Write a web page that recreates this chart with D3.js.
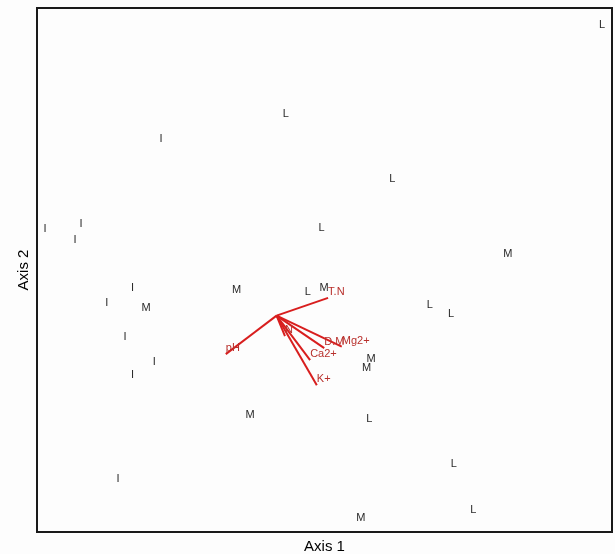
<!DOCTYPE html>
<html>
<head>
<meta charset="utf-8">
<script src="https://cdn.jsdelivr.net/npm/d3@7"></script>
<style>
  body { margin: 0; background: #fdfdfd; }
  svg { display: block; font-family: "Liberation Sans", Arial, sans-serif; will-change: transform; }
</style>
</head>
<body>
<svg id="chart"></svg>
<script>
// site scores (axis 1, axis 2) per group
const groupI = [
  [-0.967, 0.363], [-0.816, 0.384], [-0.841, 0.319], [-0.482, 0.739],
  [-0.601, 0.118], [-0.709, 0.058], [-0.633, -0.084], [-0.510, -0.188],
  [-0.601, -0.243], [-0.662, -0.676]
];
const groupM = [
  [-0.545, 0.035], [-0.167, 0.111], [0.198, 0.119], [0.965, 0.262],
  [0.394, -0.176], [0.376, -0.213], [-0.111, -0.409], [0.352, -0.837]
];
const groupL = [
  [1.358, 1.213], [0.038, 0.844], [0.483, 0.571], [0.188, 0.370],
  [0.130, 0.104], [0.640, 0.048], [0.728, 0.011], [0.387, -0.427],
  [0.740, -0.612], [0.821, -0.806]
];
// environmental vectors
const envNames = ["pH", "T.N", "N", "D.M", "Mg2+", "Ca2+", "K+"];
const envX = [-0.212, 0.215, 0.035, 0.199, 0.272, 0.140, 0.168];
const envY = [-0.160, 0.074, -0.085, -0.135, -0.129, -0.185, -0.289];

const width = 615, height = 554;
const margin = { top: 8, right: 3, bottom: 22, left: 37 };

const svg = d3.select("#chart").attr("width", width).attr("height", height);

const x = d3.scaleLinear().domain([-1.0, 1.4])
  .range([margin.left, width - margin.right]);
const y = d3.scaleLinear().domain([-0.9, 1.28])
  .range([height - margin.bottom, margin.top]);

// points as group letters
const sites = []
  .concat(groupI.map(d => ({ g: "I", x: d[0], y: d[1] })))
  .concat(groupM.map(d => ({ g: "M", x: d[0], y: d[1] })))
  .concat(groupL.map(d => ({ g: "L", x: d[0], y: d[1] })));

svg.append("g")
  .selectAll("text")
  .data(sites)
  .enter()
  .append("text")
  .attr("x", d => x(d.x))
  .attr("y", d => y(d.y))
  .attr("text-anchor", "middle")
  .attr("dominant-baseline", "central")
  .attr("fill", "#2a2a2a")
  .style("font-size", "11px")
  .text(d => d.g);

// vectors
const env = envNames.map((n, i) => ({ name: n, x: envX[i], y: envY[i] }));
const $env = svg.append("g");
$env.selectAll("line")
  .data(env)
  .enter()
  .append("line")
  .attr("x1", x(0))
  .attr("y1", y(0))
  .attr("x2", d => x(d.x))
  .attr("y2", d => y(d.y))
  .attr("stroke", "#d81e1e")
  .attr("stroke-width", 2);
$env.selectAll("text")
  .data(env)
  .enter()
  .append("text")
  .attr("x", d => x(d.x))
  .attr("y", d => y(d.y) - 3)
  .attr("fill", "#b8302c")
  .style("font-size", "11px")
  .text(d => d.name);

// frame
svg.append("rect")
  .attr("x", margin.left)
  .attr("y", margin.top)
  .attr("width", width - margin.left - margin.right)
  .attr("height", height - margin.top - margin.bottom)
  .attr("fill", "none")
  .attr("stroke", "#1a1a1a")
  .attr("stroke-width", 2);

// axis titles
svg.append("text")
  .attr("x", (margin.left + width - margin.right) / 2)
  .attr("y", height - 3)
  .attr("text-anchor", "middle")
  .style("font-size", "15px")
  .text("Axis 1");
svg.append("text")
  .attr("transform", `translate(28,${(margin.top + height - margin.bottom) / 2}) rotate(-90)`)
  .attr("text-anchor", "middle")
  .style("font-size", "15px")
  .text("Axis 2");
</script>
</body>
</html>
